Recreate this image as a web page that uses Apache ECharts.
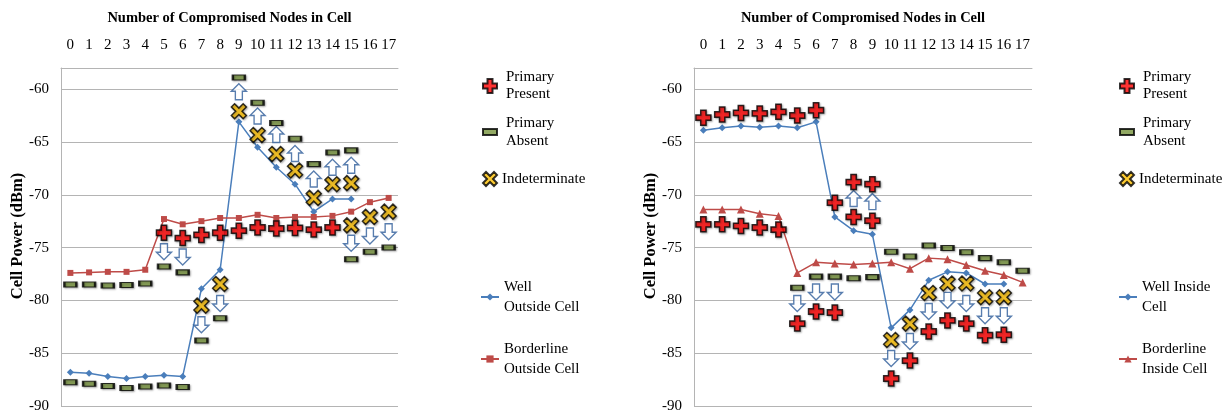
<!DOCTYPE html>
<html>
<head>
<meta charset="utf-8">
<script src="https://cdn.jsdelivr.net/npm/echarts@6/dist/echarts.min.js"></script>
<style>html,body{margin:0;padding:0;background:#fff}#c{width:1228px;height:415px}</style>
</head>
<body>
<div id="c"></div>
<script>
// ---- data ----
var categories = ['0','1','2','3','4','5','6','7','8','9','10','11','12','13','14','15','16','17'];
var yTicks = { min: -90, max: -58, interval: 5 };

// left chart (outside cell)
var leftWell = [-86.8,-86.9,-87.2,-87.4,-87.2,-87.1,-87.2,-78.9,-77.1,-63.1,-65.5,-67.4,-69.0,-71.6,-70.4,-70.4,null,null];
var leftBorder = [-77.4,-77.35,-77.3,-77.3,-77.1,-72.3,-72.8,-72.5,-72.2,-72.2,-71.9,-72.2,-72.1,-72.1,-72.0,-71.6,-70.7,-70.3];
var leftPresent = [[5,-73.6],[6,-74.1],[7,-73.8],[8,-73.6],[9,-73.4],[10,-73.1],[11,-73.2],[12,-73.15],[13,-73.3],[14,-73.1]];
var leftAbsent = [[0,-78.5],[1,-78.5],[2,-78.6],[3,-78.55],[4,-78.4],
  [0,-87.75],[1,-87.9],[2,-88.1],[3,-88.3],[4,-88.15],[5,-88.05],[6,-88.2],
  [5,-76.8],[6,-77.35],[7,-83.8],[8,-81.7],
  [9,-58.9],[10,-61.3],[11,-63.2],[12,-64.7],[13,-67.1],[14,-66.0],[15,-65.8],
  [15,-76.1],[16,-75.4],[17,-75.0]];
var leftIndet = [[7,-80.5],[8,-78.45],[9,-62.1],[10,-64.35],[11,-66.15],[12,-67.7],[13,-70.3],[14,-69.0],[15,-68.9],[15,-72.9],[16,-72.1],[17,-71.6]];
var leftUp = [[9,-60.25],[10,-62.55],[11,-64.3],[12,-66.1],[13,-68.5],[14,-67.4],[15,-67.2]];
var leftDown = [[5,-75.4],[6,-75.9],[7,-82.3],[8,-80.3],[15,-74.6],[16,-73.9],[17,-73.5]];

// right chart (inside cell)
var rightWell = [-63.9,-63.65,-63.5,-63.6,-63.5,-63.65,-63.1,-72.1,-73.4,-73.75,-82.6,-80.9,-78.1,-77.3,-77.4,-78.45,-78.45,null];
var rightBorder = [-71.4,-71.4,-71.4,-71.8,-72.0,-77.4,-76.4,-76.5,-76.6,-76.5,-76.4,-77.0,-76.0,-76.1,-76.65,-77.2,-77.6,-78.3];
var rightPresent = [[0,-62.7],[1,-62.4],[2,-62.25],[3,-62.3],[4,-62.15],[5,-62.5],[6,-62.0],
  [0,-72.8],[1,-72.8],[2,-72.95],[3,-73.1],[4,-73.3],
  [7,-70.75],[8,-68.8],[8,-72.1],[9,-69.0],[9,-72.45],
  [5,-82.2],[6,-81.05],[7,-81.15],
  [10,-87.4],[11,-85.7],[12,-82.95],[13,-81.9],[14,-82.2],[15,-83.3],[16,-83.25]];
var rightAbsent = [[5,-78.8],[6,-77.75],[7,-77.75],[8,-77.9],[9,-77.8],[10,-75.4],[11,-75.85],[12,-74.8],[13,-75.05],[14,-75.45],[15,-76.0],[16,-76.4],[17,-77.2]];
var rightIndet = [[10,-83.75],[11,-82.2],[12,-79.3],[13,-78.4],[14,-78.4],[15,-79.7],[16,-79.7]];
var rightUp = [[8,-70.35],[9,-70.65]];
var rightDown = [[5,-80.3],[6,-79.2],[7,-79.2],[10,-85.5],[11,-83.9],[12,-81.05],[13,-80.0],[14,-80.3],[15,-81.45],[16,-81.45]];

// ---- styles ----
var FONT = '"Liberation Serif","Times New Roman",serif';
var GRID_C = '#b4b4b4';
var BLUE = '#4a7ebb', RED = '#be4b48';
var CROSS = 'path://M4.5,0H9.5V4.5H14V9.5H9.5V14H4.5V9.5H0V4.5H4.5Z';
var XMARK = 'path://M0,3L3,0L7,4L11,0L14,3L10,7L14,11L11,14L7,10L3,14L0,11L4,7Z';
var UP = 'path://M7.5,0L15,7.5L11,7.5L11,16L4,16L4,7.5L0,7.5Z';
var DOWN = 'path://M7.5,16L15,8.5L11,8.5L11,0L4,0L4,8.5L0,8.5Z';
var shadow = { shadowColor: 'rgba(0,0,0,0.35)', shadowBlur: 2, shadowOffsetX: 1, shadowOffsetY: 1 };

function xAx(gi) {
  return {
    type: 'category', gridIndex: gi, data: categories, position: 'top', boundaryGap: true,
    name: 'Number of Compromised Nodes in Cell', nameLocation: 'middle', nameGap: 42,
    nameTextStyle: { fontFamily: FONT, fontSize: 14.5, fontWeight: 'bold', color: '#000' },
    axisLine: { show: true, onZero: false, lineStyle: { color: GRID_C, width: 1 } },
    axisTick: { show: false },
    axisLabel: { interval: 0, margin: 15, fontFamily: FONT, fontSize: 15, color: '#000' },
    splitLine: { show: false }
  };
}
function yAx(gi) {
  return {
    type: 'value', gridIndex: gi, min: yTicks.min, max: yTicks.max, interval: yTicks.interval,
    axisLine: { show: true, lineStyle: { color: GRID_C, width: 1 } },
    axisTick: { show: false },
    axisLabel: { margin: 12, fontFamily: FONT, fontSize: 15, color: '#000', showMaxLabel: false },
    splitLine: { show: true, lineStyle: { color: GRID_C, width: 1 } }
  };
}
function lineS(name, gi, data, sym, size) {
  var col = name.indexOf('Well') === 0 ? BLUE : RED;
  return { type: 'line', name: name, xAxisIndex: gi, yAxisIndex: gi, data: data,
    symbol: sym, symbolSize: size, showSymbol: true,
    lineStyle: { color: col, width: 1.5 }, itemStyle: { color: col, borderWidth: 0 }, z: 2 };
}
function presentS(gi, data) {
  return { type: 'scatter', name: 'Primary\nPresent', xAxisIndex: gi, yAxisIndex: gi, data: data,
    symbol: CROSS, symbolSize: 15,
    itemStyle: Object.assign({ color: '#ff0000', borderColor: '#000', borderWidth: 1.5 }, shadow), z: 4 };
}
function absentS(gi, data) {
  return { type: 'scatter', name: 'Primary\nAbsent', xAxisIndex: gi, yAxisIndex: gi, data: data,
    symbol: 'rect', symbolSize: [12, 5],
    itemStyle: Object.assign({ color: '#77933c', borderColor: '#000', borderWidth: 1.6 }, shadow), z: 4 };
}
function indetS(gi, data) {
  return { type: 'scatter', name: 'Indeterminate', xAxisIndex: gi, yAxisIndex: gi, data: data,
    symbol: XMARK, symbolSize: 15,
    itemStyle: Object.assign({ color: '#ffc000', borderColor: '#000', borderWidth: 1.5 }, shadow), z: 4 };
}
function arrowS(gi, data, sym, nm) {
  return { type: 'scatter', name: nm, xAxisIndex: gi, yAxisIndex: gi, data: data,
    symbol: sym, symbolSize: [15, 16],
    itemStyle: { color: '#fff', borderColor: '#2e5c9a', borderWidth: 1.4 }, z: 3 };
}
function legendItem(name, left, top, w, h, lh, pad) {
  return { show: true, data: [name], left: left, top: top, padding: 0, itemWidth: w, itemHeight: h,
    selectedMode: false,
    textStyle: { fontFamily: FONT, fontSize: 15, color: '#000', lineHeight: lh, padding: pad } };
}

var option = {
  animation: false,
  backgroundColor: '#fff',
  grid: [
    { left: 61, top: 68, width: 337, height: 338 },
    { left: 694, top: 68, width: 338, height: 338 }
  ],
  xAxis: [xAx(0), xAx(1)],
  yAxis: [yAx(0), yAx(1)],
  legend: [
    legendItem('Primary\nPresent', 482, 64.5, 14, 14, 17, [9, 0, 0, 4]),
    legendItem('Primary\nAbsent', 482, 114.5, 14, 6, 17.5, [0, 0, 0, 4]),
    legendItem('Indeterminate', 482, 170.5, 14, 14, 17, [0, 0, 0, 0]),
    legendItem('Well\nOutside Cell', 480, 267, 18, 9, 20, [20, 0, 0, 0]),
    legendItem('Borderline\nOutside Cell', 480, 329, 18, 9, 20, [20, 0, 0, 0]),
    legendItem('Primary\nPresent', 1119, 64.5, 14, 14, 17, [9, 0, 0, 4]),
    legendItem('Primary\nAbsent', 1119, 114.5, 14, 6, 17.5, [0, 0, 0, 4]),
    legendItem('Indeterminate', 1119, 170.5, 14, 14, 17, [0, 0, 0, 0]),
    legendItem('Well Inside\nCell', 1118, 267, 18, 9, 20, [20, 0, 0, 0]),
    legendItem('Borderline\nInside Cell', 1118, 329, 18, 9, 20, [20, 0, 0, 0])
  ],
  graphic: [
    { type: 'text', x: 18, y: 236, rotation: Math.PI / 2,
      style: { text: 'Cell Power (dBm)', font: 'bold 16.5px ' + FONT, fill: '#000', align: 'center', verticalAlign: 'middle' } },
    { type: 'text', x: 651, y: 236, rotation: Math.PI / 2,
      style: { text: 'Cell Power (dBm)', font: 'bold 16.5px ' + FONT, fill: '#000', align: 'center', verticalAlign: 'middle' } }
  ],
  series: [
    lineS('Well\nOutside Cell', 0, leftWell, 'diamond', 7),
    lineS('Borderline\nOutside Cell', 0, leftBorder, 'rect', 6),
    arrowS(0, leftUp, UP, 'upL'),
    arrowS(0, leftDown, DOWN, 'downL'),
    presentS(0, leftPresent),
    absentS(0, leftAbsent),
    indetS(0, leftIndet),
    lineS('Well Inside\nCell', 1, rightWell, 'diamond', 7),
    lineS('Borderline\nInside Cell', 1, rightBorder, 'triangle', 8),
    arrowS(1, rightUp, UP, 'upR'),
    arrowS(1, rightDown, DOWN, 'downR'),
    presentS(1, rightPresent),
    absentS(1, rightAbsent),
    indetS(1, rightIndet)
  ]
};
var chart = echarts.init(document.getElementById('c'), null, { renderer: 'canvas' });
chart.setOption(option);
</script>
</body>
</html>
